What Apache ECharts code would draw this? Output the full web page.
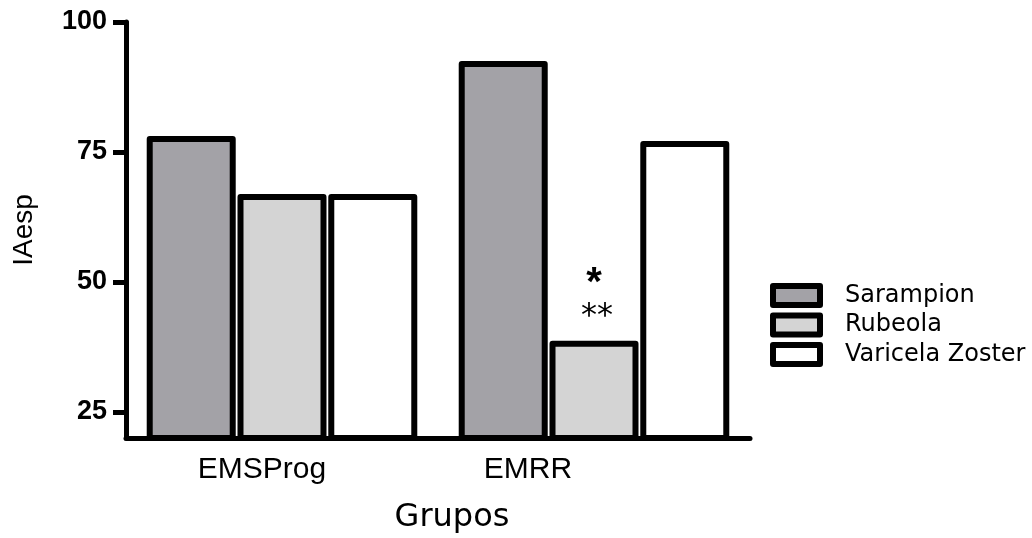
<!DOCTYPE html>
<html>
<head>
<meta charset="utf-8">
<script src="https://cdn.jsdelivr.net/npm/echarts@6/dist/echarts.min.js"></script>
<style>
  html, body { margin: 0; padding: 0; background: #fff; }
  #main { width: 1032px; height: 538px; }
</style>
</head>
<body>
<div id="main"></div>
<script>
// datos
var grupos = ['EMSProg', 'EMRR'];
var sarampion = [78.1, 92.5];
var rubeola = [66.9, 38.7];
var varicela = [66.9, 77.1];
var yTicks = [25, 50, 75, 100];

var myChart = echarts.init(document.getElementById('main'));

var borde = {
    borderColor: '#000',
    borderWidth: 6,
    borderJoin: 'round'
};

var option = {
    backgroundColor: '#fff',
    animation: false,
    grid: { left: 126, right: 282, top: 22, bottom: 100, outerBoundsMode: 'none' },
    legend: {
        orient: 'vertical',
        left: 765,
        top: 278,
        itemWidth: 47,
        itemHeight: 19,
        itemGap: 4.5,
        icon: 'rect',
        itemStyle: { borderColor: '#000', borderWidth: 6 },
        textStyle: {
            fontFamily: 'DejaVu Sans',
            fontSize: 24,
            color: '#000',
            lineHeight: 19,
            padding: [0, 0, 0, 20]
        },
        data: ['Sarampion', 'Rubeola', 'Varicela Zoster']
    },
    xAxis: {
        type: 'category',
        data: grupos,
        name: 'Grupos',
        nameLocation: 'middle',
        nameGap: 64,
        nameTextStyle: {
            fontFamily: 'DejaVu Sans',
            fontSize: 32,
            color: '#000',
            padding: [0, 0, 0, 28]
        },
        axisLine: { lineStyle: { color: '#000', width: 5 } },
        axisTick: { show: false },
        axisLabel: {
            margin: 17,
            color: '#000',
            formatter: function (v, i) {
                return i === 0 ? '{a|' + v + '}' : '{b|' + v + '}';
            },
            rich: {
                a: { fontFamily: 'Liberation Sans', fontSize: 30, color: '#000', padding: [0, 40, 0, 0] },
                b: { fontFamily: 'Liberation Sans', fontSize: 30, color: '#000', padding: [0, 132, 0, 0] }
            }
        }
    },
    yAxis: {
        type: 'value',
        min: 20,
        max: 100,
        name: 'IAesp',
        nameLocation: 'middle',
        nameGap: 88,
        nameTextStyle: {
            fontFamily: 'Liberation Sans',
            fontSize: 28,
            color: '#000'
        },
        splitLine: { show: false },
        axisLine: { show: true, lineStyle: { color: '#000', width: 5 } },
        axisTick: {
            show: true,
            length: 13,
            lineStyle: { color: '#000', width: 5 },
            customValues: yTicks
        },
        axisLabel: {
            margin: 19,
            color: '#000',
            fontFamily: 'Liberation Sans',
            fontWeight: 'bold',
            fontSize: 27,
            customValues: yTicks
        }
    },
    series: [
        {
            name: 'Sarampion',
            type: 'bar',
            barWidth: 89,
            barGap: '2%',
            itemStyle: Object.assign({ color: '#a3a2a7' }, borde),
            data: sarampion
        },
        {
            name: 'Rubeola',
            type: 'bar',
            barWidth: 89,
            barGap: '2%',
            itemStyle: Object.assign({ color: '#d4d4d4' }, borde),
            data: [
                rubeola[0],
                {
                    value: rubeola[1],
                    label: {
                        show: true,
                        position: 'top',
                        distance: 8,
                        formatter: '{a|*}\n{b|**}',
                        rich: {
                            a: { fontFamily: 'Liberation Sans', fontWeight: 'bold', fontSize: 40, color: '#000', lineHeight: 34 },
                            b: { fontFamily: 'DejaVu Sans', fontSize: 32, color: '#000', lineHeight: 32, padding: [0, 0, 0, 6] }
                        }
                    }
                }
            ]
        },
        {
            name: 'Varicela Zoster',
            type: 'bar',
            barWidth: 89,
            barGap: '2%',
            itemStyle: Object.assign({ color: '#ffffff' }, borde),
            data: varicela
        }
    ]
};

myChart.setOption(option);
</script>
</body>
</html>
